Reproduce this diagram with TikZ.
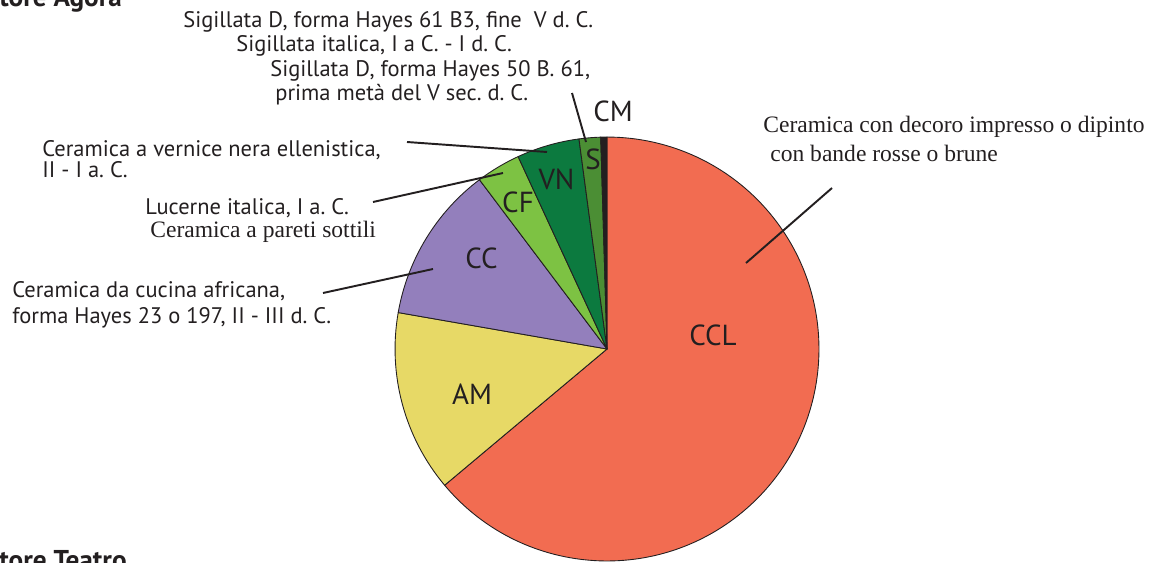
\documentclass[tikz,border=0pt]{standalone}
\usepackage{fontspec}
\setmainfont{PT Sans}
\newfontfamily\timesface{Liberation Serif}
\definecolor{ink}{RGB}{35,31,32}
\definecolor{cclred}{RGB}{242,108,81}
\definecolor{amyellow}{RGB}{231,217,102}
\definecolor{ccpurple}{RGB}{147,127,188}
\definecolor{cfgreen}{RGB}{125,194,67}
\definecolor{vngreen}{RGB}{12,122,63}
\definecolor{sgreen}{RGB}{75,142,52}
\frenchspacing
\begin{document}
\begin{tikzpicture}[x=0.02cm,y=0.02cm,
  sans text/.style={anchor=base west,inner sep=0pt,text=ink,font=\fontsize{12.8}{14}\selectfont},
  serif text/.style={anchor=base west,inner sep=0pt,text=ink,font=\timesface\fontsize{13.4}{15}\selectfont},
  head text/.style={anchor=base west,inner sep=0pt,text=ink,font=\bfseries\fontsize{15.5}{17}\selectfont},
  slice name/.style={anchor=base,inner sep=0pt,text=ink,font=\fontsize{16.5}{18}\selectfont},
  slice/.style={draw=ink,line width=0.5pt,line join=round}]
  \useasboundingbox (0,0) rectangle (1158,562);

  % pie
  \coordinate (c) at (607,213);
  \filldraw[slice,fill=cclred]   (c) -- ++(220:4.24cm) arc[start angle=220,end angle=450,radius=4.24cm] -- cycle;
  \filldraw[slice,fill=amyellow] (c) -- ++(170.1:4.24cm) arc[start angle=170.1,end angle=220,radius=4.24cm] -- cycle;
  \filldraw[slice,fill=ccpurple] (c) -- ++(127:4.24cm) arc[start angle=127,end angle=170.1,radius=4.24cm] -- cycle;
  \filldraw[slice,fill=cfgreen]  (c) -- ++(114.8:4.24cm) arc[start angle=114.8,end angle=127,radius=4.24cm] -- cycle;
  \filldraw[slice,fill=vngreen]  (c) -- ++(97.6:4.24cm) arc[start angle=97.6,end angle=114.8,radius=4.24cm] -- cycle;
  \filldraw[slice,fill=sgreen]   (c) -- ++(91.7:4.24cm) arc[start angle=91.7,end angle=97.6,radius=4.24cm] -- cycle;
  \filldraw[slice,fill=ink]      (c) -- ++(90:4.24cm) arc[start angle=90,end angle=91.7,radius=4.24cm] -- cycle;

  % slice names
  \node[slice name] (ccl) at (713,217) {CCL};
  \node[slice name] (am) at (472,158) {AM};
  \node[slice name] (cc) at (481.5,294) {CC};
  \node[slice name] (cf) at (518,350) {CF};
  \node[slice name] (vn) at (556.5,373) {VN};
  \node[slice name] (s) at (593,393) {S};
  \node[slice name] (cm) at (613,440) {CM};

  % headings
  \node[head text] (agora) at (-1,555) {tore Agora};
  \node[head text] (teatro) at (-1,-7) {tore Teatro};

  % descriptions
  \node[sans text] (sig61) at (183,534) {Sigillata D, forma Hayes 61 B3, fine\ \ V d. C.};
  \node[sans text] (sigit) at (236,510) {Sigillata italica, I a C. - I d. C.};
  \node[sans text] (sig50) at (270,485) {Sigillata D, forma Hayes 50 B. 61,};
  \node[sans text] (sig50b) at (275,461) {prima metà del V sec. d. C.};
  \node[sans text] (vern) at (42,406) {Ceramica a vernice nera ellenistica,};
  \node[sans text] (vernb) at (42,385) {II - I a. C.};
  \node[sans text] (luc) at (145,348) {Lucerne italica, I a. C.};
  \node[serif text] (par) at (150,325) {Ceramica a pareti sottili};
  \node[sans text] (cuc) at (12,265) {Ceramica da cucina africana,};
  \node[sans text] (cucb) at (12,239) {forma Hayes 23 o 197, II - III d. C.};
  \node[serif text] (dec) at (763,429) {Ceramica con decoro impresso o dipinto};
  \node[serif text] (decb) at (770,400) {con bande rosse o brune};

  % leader lines
  \coordinate (dec-end) at (832,374);
  \coordinate (ccl-end) at (746,299);
  \coordinate (sig-end) at (572,469);
  \coordinate (s-end) at (586,420);
  \coordinate (vern-end) at (407,420);
  \coordinate (vn-end) at (547,410);
  \coordinate (luc-end) at (373,360);
  \coordinate (cf-end) at (503,389);
  \coordinate (cuc-end) at (323,269);
  \coordinate (cc-end) at (433,293);
  \path[draw=ink,line width=1.1pt]
    (dec-end) edge (ccl-end)
    (sig-end) edge (s-end)
    (vern-end) edge (vn-end)
    (luc-end) edge (cf-end)
    (cuc-end) edge (cc-end);
\end{tikzpicture}
\end{document}
